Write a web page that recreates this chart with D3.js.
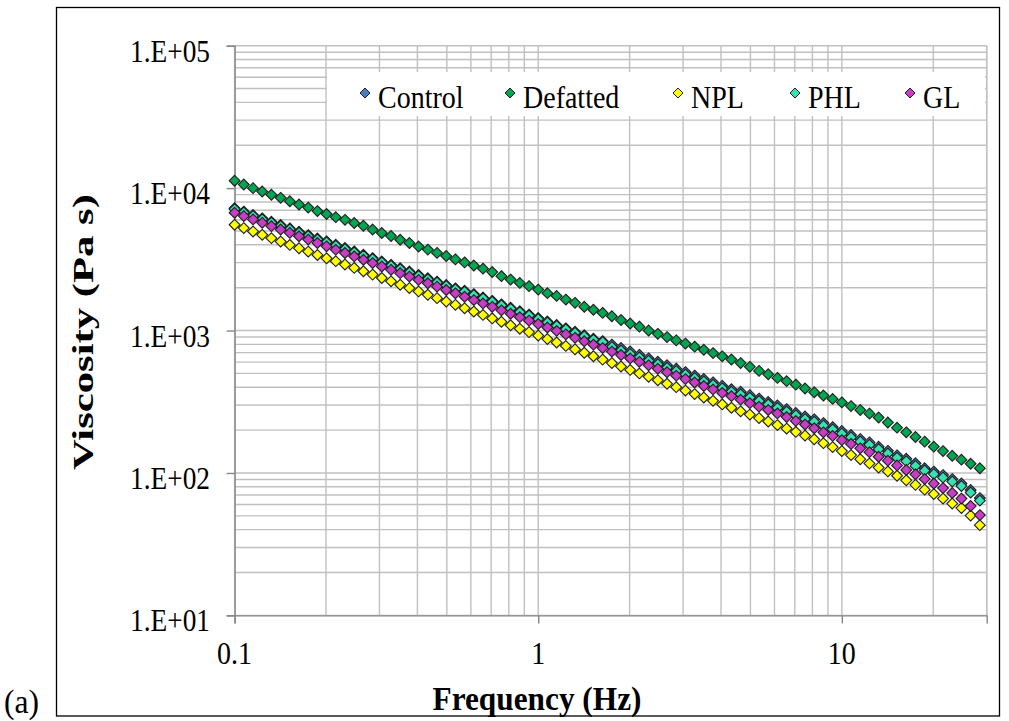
<!DOCTYPE html>
<html>
<head>
<meta charset="utf-8">
<script src="https://cdn.jsdelivr.net/npm/d3@7"></script>
<style>
  html, body { margin: 0; padding: 0; background: #fff; }
  svg { display: block; }
  text { font-family: "Liberation Serif", "Times New Roman", serif; fill: #000; }
</style>
</head>
<body>
<svg id="chart" width="1009" height="721"></svg>
<script>
// Oscillatory frequency sweep: complex viscosity (Pa s) vs frequency (Hz)
const frequency = [0.1, 0.1072, 0.115, 0.1233, 0.1322, 0.1418, 0.152, 0.163, 0.1748, 0.1874,
  0.2009, 0.2154, 0.231, 0.2477, 0.2656, 0.2848, 0.3054, 0.3275, 0.3511, 0.3765,
  0.4037, 0.4329, 0.4642, 0.4977, 0.5337, 0.5722, 0.6136, 0.6579, 0.7055, 0.7565,
  0.8111, 0.8697, 0.9326, 1.0, 1.072, 1.15, 1.233, 1.322, 1.418, 1.52,
  1.63, 1.748, 1.874, 2.009, 2.154, 2.31, 2.477, 2.656, 2.848, 3.054,
  3.275, 3.511, 3.765, 4.037, 4.329, 4.642, 4.977, 5.337, 5.722, 6.136,
  6.579, 7.055, 7.565, 8.111, 8.697, 9.326, 10.0, 10.72, 11.5, 12.33,
  13.22, 14.18, 15.2, 16.3, 17.48, 18.74, 20.09, 21.54, 23.1, 24.77,
  26.56, 28.48];

const control = [7225, 6843, 6482, 6139, 5814, 5508, 5216, 4940, 4679, 4432,
  4232, 4008, 3796, 3595, 3405, 3225, 3055, 2894, 2740, 2596,
  2458, 2328, 2205, 2089, 1979, 1904, 1804, 1708, 1616, 1528,
  1446, 1368, 1294, 1224, 1158, 1095, 1036, 980, 927, 877,
  843, 797, 754, 713, 675, 638, 604, 571, 540, 511,
  483, 457, 433, 409, 387, 372, 352, 333, 315, 298,
  281, 264, 249, 238, 224, 210, 197, 185, 173, 164,
  153, 143, 133, 126, 117, 108, 102.3, 96.6, 90.6, 84.3,
  75.9, 66.6];

const defatted = [11270, 10600, 10000, 9465, 8990, 8550, 8090, 7670, 7300, 6900,
  6580, 6250, 5990, 5690, 5440, 5120, 4840, 4610, 4340, 4120,
  3890, 3700, 3510, 3340, 3160, 3010, 2860, 2720, 2575, 2410,
  2280, 2160, 2050, 1940, 1830, 1750, 1650, 1565, 1470, 1400,
  1330, 1260, 1185, 1120, 1065, 1000, 948, 900, 853, 810,
  771, 733, 695, 659, 626, 591, 556, 521, 493, 465,
  441, 417, 392, 369, 350, 331, 313, 295, 277, 261,
  245, 226, 208, 193, 179, 166, 153, 142.5, 132, 124,
  116, 108];

const npl = [5532, 5240, 4963, 4701, 4452, 4217, 3994, 3782, 3583, 3394,
  3214, 3069, 2907, 2753, 2608, 2470, 2339, 2216, 2098, 1987,
  1882, 1783, 1689, 1599, 1515, 1435, 1359, 1287, 1217, 1152,
  1089, 1030, 975, 922, 872, 825, 780, 738, 698, 660,
  625, 591, 559, 529, 500, 473, 448, 423, 400.5, 379,
  358, 339, 321, 303, 287, 271, 257, 243, 230, 217,
  205, 194.3, 183, 172.2, 161.9, 152, 142.4, 133.6, 124.9, 116.7,
  109.1, 102.6, 95.6, 88.8, 82.5, 76.4, 71.1, 66.1, 61, 56.7,
  50.2, 43];

const phl = [7109, 6734, 6378, 6041, 5721, 5420, 5133, 4861, 4604, 4361,
  4164, 3944, 3735, 3537, 3351, 3173, 3006, 2848, 2696, 2554,
  2419, 2291, 2170, 2056, 1947, 1874, 1775, 1681, 1590, 1504,
  1423, 1346, 1273, 1204, 1139, 1077, 1019, 964, 912, 863,
  830, 765, 724, 685, 648, 613, 580, 548, 519, 491,
  464, 439, 416, 393, 372, 357, 338, 320, 303, 286,
  270, 254, 239, 229, 215, 202, 189, 178, 166, 157.5,
  147, 137, 128, 121, 112, 104, 98.2, 92.8, 87, 81,
  72.9, 64];

const gl = [6718, 6363, 6027, 5708, 5406, 5121, 4850, 4593, 4351, 4121,
  3903, 3697, 3501, 3316, 3141, 2975, 2818, 2669, 2528, 2394,
  2267, 2148, 2034, 1927, 1825, 1728, 1637, 1550, 1467, 1387,
  1312, 1241, 1174, 1111, 1051, 994, 940, 889, 841, 796,
  753, 712, 673, 637, 603, 570, 539, 510, 482, 456,
  432, 408, 386, 365, 346, 327, 309, 292, 277, 262,
  247, 232, 219, 206, 193, 182, 170, 160, 149, 140,
  130, 122, 113, 105, 97.8, 90.6, 84.3, 78.3, 72.3, 66.1,
  58.6, 50.6];

const seriesNames = ["Control", "Defatted", "NPL", "PHL", "GL"];
const seriesValues = [control, defatted, npl, phl, gl];
const seriesColors = ["#4a7ebb", "#00a650", "#ffff00", "#33e3b3", "#c83cc8"];

const yTickValues = [10, 100, 1000, 10000, 100000];
const yTickLabels = ["1.E+01", "1.E+02", "1.E+03", "1.E+04", "1.E+05"];
const xTickValues = [0.1, 1, 10];
const xTickLabels = ["0.1", "1", "10"];

// ---------------------------------------------------------------------
const svg = d3.select("#chart");
const SY = 1.15;               // glyphs are drawn a little taller than wide
const plot = { left: 234.6, right: 986.7, top: 45.7, bottom: 615.4 };

const x = d3.scaleLog().domain([0.1, 30]).range([plot.left, plot.right]);
const y = d3.scaleLog().domain([10, 100000]).range([plot.bottom, plot.top]);

// Text placed at (px, py); optional rotation, vertical stretch and a target
// run length (in px) that the text is scaled to along its baseline.
function label(parent, px, py, str, opts = {}) {
  const g = parent.append("g");
  const t = g.append("text")
    .attr("text-anchor", opts.anchor || "start")
    .attr("font-size", opts.size || 27)
    .attr("font-weight", opts.bold ? "bold" : "normal")
    .text(str);
  let sx = 1;
  if (opts.length) sx = opts.length / t.node().getComputedTextLength();
  g.attr("transform",
    `translate(${px},${py})${opts.rotate ? ` rotate(${opts.rotate})` : ""} scale(${sx},${opts.sy || SY})`);
  return t;
}

// outer frame
svg.append("rect")
  .attr("x", 56.5).attr("y", 7.5).attr("width", 943).attr("height", 708.5)
  .attr("fill", "none").attr("stroke", "#000").attr("stroke-width", 1.3);

// gridlines (major + minor, both axes)
const grid = svg.append("g").attr("stroke", "#c0c0c0").attr("stroke-width", 1.4);
grid.selectAll("line.gx").data(x.ticks()).join("line")
  .attr("x1", d => x(d)).attr("x2", d => x(d))
  .attr("y1", plot.top).attr("y2", plot.bottom);
grid.append("line")
  .attr("x1", plot.right).attr("x2", plot.right)
  .attr("y1", plot.top).attr("y2", plot.bottom);
grid.selectAll("line.gy").data(y.ticks()).join("line")
  .attr("x1", plot.left).attr("x2", plot.right)
  .attr("y1", d => y(d)).attr("y2", d => y(d));

// axes
const axisColor = "#868686";
const yAxis = svg.append("g").attr("transform", `translate(${plot.left},0)`)
  .call(d3.axisLeft(y).tickValues(yTickValues).tickSize(8).tickFormat(""));
const xAxis = svg.append("g").attr("transform", `translate(0,${plot.bottom})`)
  .call(d3.axisBottom(x).tickValues(xTickValues).tickSize(8).tickFormat(""));
[yAxis, xAxis].forEach(a => {
  a.select(".domain").attr("stroke", axisColor).attr("stroke-width", 1.4);
  a.selectAll(".tick line").attr("stroke", axisColor).attr("stroke-width", 1.4);
});

// tick labels
yTickValues.forEach((v, i) => label(svg, 210, y(v) + 16, yTickLabels[i], { anchor: "end", size: 27, length: 80 }));
xTickValues.forEach((v, i) => label(svg, x(v), 664, xTickLabels[i], { anchor: "middle", size: 28 }));

// axis titles
label(svg, 537, 710, "Frequency (Hz)", { anchor: "middle", size: 30, bold: true, length: 209 });
label(svg, 93, 332, "Viscosity (Pa s)", { anchor: "middle", size: 30, bold: true, rotate: -90, length: 276, sy: 1 });

// panel tag
label(svg, 4, 713, "(a)", { size: 29, length: 35 });

// markers
const diamond = r => `M0,${-r}L${r},0L0,${r}L${-r},0Z`;
seriesValues.forEach((vals, s) => {
  svg.append("g").selectAll("path").data(vals).join("path")
    .attr("d", diamond(5.4))
    .attr("transform", (d, i) => `translate(${x(frequency[i])},${y(d)})`)
    .attr("fill", seriesColors[s])
    .attr("stroke", "#1e1e1e").attr("stroke-width", 1.1);
});

// legend
const legend = svg.append("g");
legend.append("rect").attr("x", 327).attr("y", 72).attr("width", 658).attr("height", 44).attr("fill", "#fff");
const legendX = [365, 510, 678, 795, 910];
seriesNames.forEach((name, i) => {
  legend.append("path").attr("d", diamond(5))
    .attr("transform", `translate(${legendX[i]},93)`)
    .attr("fill", seriesColors[i]).attr("stroke", "#1e1e1e").attr("stroke-width", 1);
  label(legend, legendX[i] + 13, 108, name, { size: 28 });
});
</script>
</body>
</html>
